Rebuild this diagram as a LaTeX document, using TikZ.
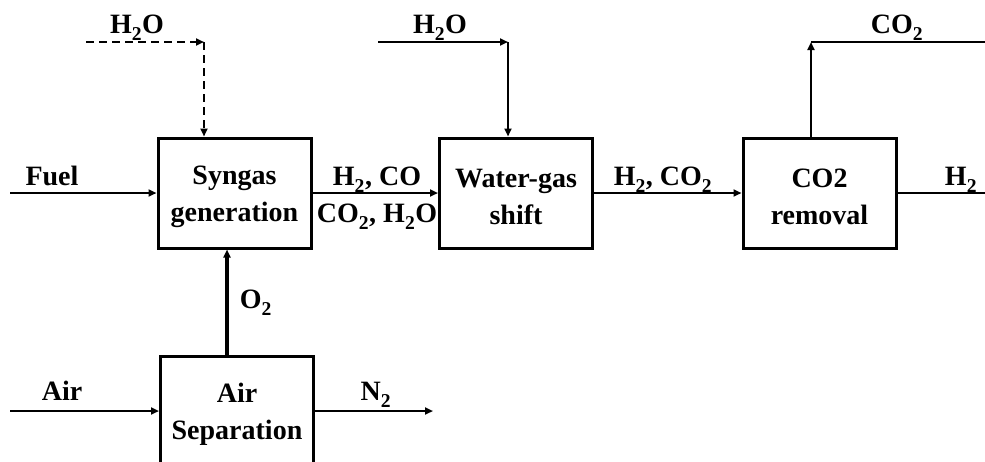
\documentclass[tikz,border=0pt]{standalone}
\usepackage{fontspec}
\setmainfont{Liberation Serif}
\usetikzlibrary{arrows.meta}
\newcommand{\sub}[1]{\raisebox{-0.12em}{\textsubscript{#1}}}
\newcommand{\tallstrut}{\rule{0pt}{26pt}}
\begin{document}
\begin{tikzpicture}[x=1pt,y=-1pt,
  font=\fontsize{28}{37}\selectfont\bfseries,
  unit/.style={draw, line width=3pt, minimum width=153pt, minimum height=110pt, align=center, inner sep=0pt},
  flow/.style={line width=2.8pt, -{Triangle[length=8pt,width=7pt]}},
  plain/.style={line width=2.8pt},
  lbl/.style={anchor=base, inner sep=0pt}]
\useasboundingbox (0,0) rectangle (985,461);
% units
\node[unit] (syn) at (234.5,193) {\tallstrut Syngas\\generation};
\node[unit] (wgs) at (516,193) {\tallstrut Water-gas\\shift};
\node[unit] (co2r) at (819.5,193) {\tallstrut CO2\\removal};
\node[unit, minimum height=116pt] (asu) at (237,414) {Air\\Separation};
% free ends and corners
\coordinate (fuelin) at (10,193);
\coordinate (h2oA) at (86,42);
\coordinate (cA) at (204,42);
\coordinate (h2oB) at (378,42);
\coordinate (cB) at (508,42);
\coordinate (cC) at (811,42);
\coordinate (co2out) at (985,42);
\coordinate (h2out) at (985,193);
\coordinate (o2x) at (227,300);
\coordinate (airin) at (10,411);
\coordinate (n2out) at (433,411);
% connectors
\draw[flow] (fuelin) -- (syn.west);
\draw[flow] (syn.east) -- (wgs.west);
\draw[flow] (wgs.east) -- (co2r.west);
\draw[plain] (co2r.east) -- (h2out);
\draw[flow, dash pattern=on 8pt off 5pt] (h2oA) -- (cA);
\draw[flow, dash pattern=on 8pt off 5pt] (cA) -- (syn.north -| cA);
\draw[flow] (h2oB) -- (cB);
\draw[flow] (cB) -- (wgs.north -| cB);
\draw[flow] (co2r.north -| cC) -- (cC);
\draw[plain] (cC) -- (co2out);
\draw[flow, line width=3.6pt] (asu.north -| o2x) -- (syn.south -| o2x);
\draw[flow] (airin) -- (airin -| asu.west);
\draw[flow] (asu.east |- airin) -- (n2out);
% labels
\node[lbl] (lfuel) at (52,185) {Fuel};
\node[lbl] (lh2oA) at (137,33) {H\sub{2}O};
\node[lbl] (lh2oB) at (440,33) {H\sub{2}O};
\node[lbl] (lco2) at (897,33) {CO\sub{2}};
\node[lbl] (lsynA) at (377,185) {H\sub{2}, CO};
\node[lbl] (lsynB) at (377,222) {CO\sub{2}, H\sub{2}O};
\node[lbl] (lwgs) at (663,185) {H\sub{2}, CO\sub{2}};
\node[lbl] (lh2) at (961,185) {H\sub{2}};
\node[lbl] (lo2) at (256,308) {O\sub{2}};
\node[lbl] (lair) at (62,400) {Air};
\node[lbl] (ln2) at (376,400) {N\sub{2}};
\end{tikzpicture}
\end{document}
